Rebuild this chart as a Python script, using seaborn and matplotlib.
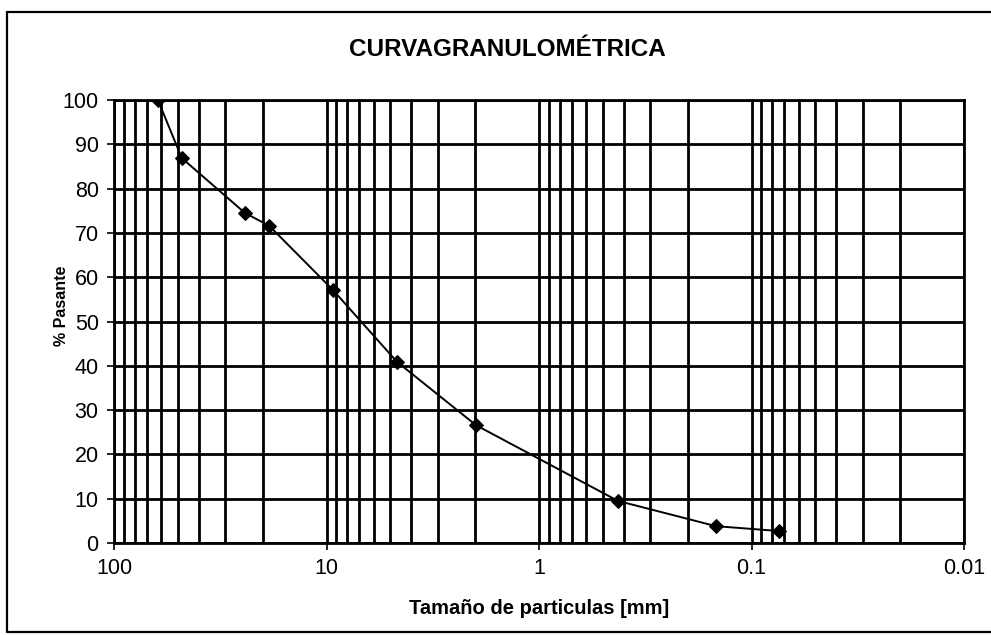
import matplotlib
matplotlib.use("Agg")
import matplotlib.pyplot as plt
from matplotlib.lines import Line2D
from matplotlib.ticker import LogLocator, FixedLocator, FixedFormatter, NullFormatter
import pandas as pd
import seaborn as sns

# Grain-size analysis: sieve opening (mm) and cumulative percent passing
particle_size_mm = [62.1, 48.0, 24.2, 18.6, 9.32, 4.66, 1.98, 0.425, 0.147, 0.0743]
percent_passing = [100.0, 86.9, 74.5, 71.6, 57.1, 40.9, 26.6, 9.5, 3.8, 2.7]

x_ticks = [100, 10, 1, 0.1, 0.01]
x_tick_labels = ["100", "10", "1", "0.1", "0.01"]
y_ticks = list(range(0, 101, 10))

df = pd.DataFrame({"size": particle_size_mm, "passing": percent_passing})

sns.set_theme(style="white")
plt.rcParams["font.family"] = ["Liberation Sans", "DejaVu Sans"]
plt.rcParams.update({"text.color": "black", "axes.labelcolor": "black",
                     "xtick.color": "black", "ytick.color": "black"})

fig = plt.figure(figsize=(9.91, 6.35), dpi=100)
ax = fig.add_axes([114 / 991, 1 - 543 / 635, (964 - 114) / 991, (543 - 100) / 635])

ax.set_xscale("log")
ax.set_xlim(100, 0.01)
ax.set_ylim(0, 100)

# log grid: every decade plus the 2..9 subdivisions
ax.xaxis.set_major_locator(FixedLocator(x_ticks))
ax.xaxis.set_major_formatter(FixedFormatter(x_tick_labels))
ax.xaxis.set_minor_locator(LogLocator(base=10, subs=range(2, 10), numticks=20))
ax.xaxis.set_minor_formatter(NullFormatter())
ax.set_yticks(y_ticks)
ax.set_yticklabels([str(v) for v in y_ticks])

ax.grid(True, which="major", axis="both", color="black", linewidth=2.0)
ax.grid(True, which="minor", axis="x", color="black", linewidth=2.0)
ax.set_axisbelow(True)

sns.lineplot(data=df, x="size", y="passing", ax=ax, color="black",
             linewidth=1.4, marker="D", markersize=7,
             markerfacecolor="black", markeredgecolor="black",
             sort=False, zorder=5)

for s in ax.spines.values():
    s.set_color("black")
    s.set_linewidth(2.0)

ax.tick_params(axis="both", which="major", direction="out", length=5,
               width=1.2, color="black", labelsize=15.5, pad=6,
               left=True, bottom=True)
ax.tick_params(axis="x", which="minor", length=0)

ax.set_xlabel("Tamaño de particulas [mm]", fontsize=14.5, fontweight="bold",
              labelpad=14)
ax.set_ylabel("% Pasante", fontsize=11.5, fontweight="bold")
ax.yaxis.set_label_coords(-0.053, 0.535)

fig.text(507 / 991, 1 - 50 / 635, "CURVAGRANULOMÉTRICA", ha="center",
         va="center", fontsize=17.5, fontweight="bold")

# chart-area frame (open on the right side)
frame_kw = dict(color="black", linewidth=1.6, transform=fig.transFigure)
x0, y0, y1 = 7 / 991, 1 - 632 / 635, 1 - 12 / 635
fig.add_artist(Line2D([x0, 1.0], [y1, y1], **frame_kw))
fig.add_artist(Line2D([x0, x0], [y0, y1], **frame_kw))
fig.add_artist(Line2D([x0, 1.0], [y0, y0], **frame_kw))

fig.savefig("out.png", dpi=100, facecolor="white")
